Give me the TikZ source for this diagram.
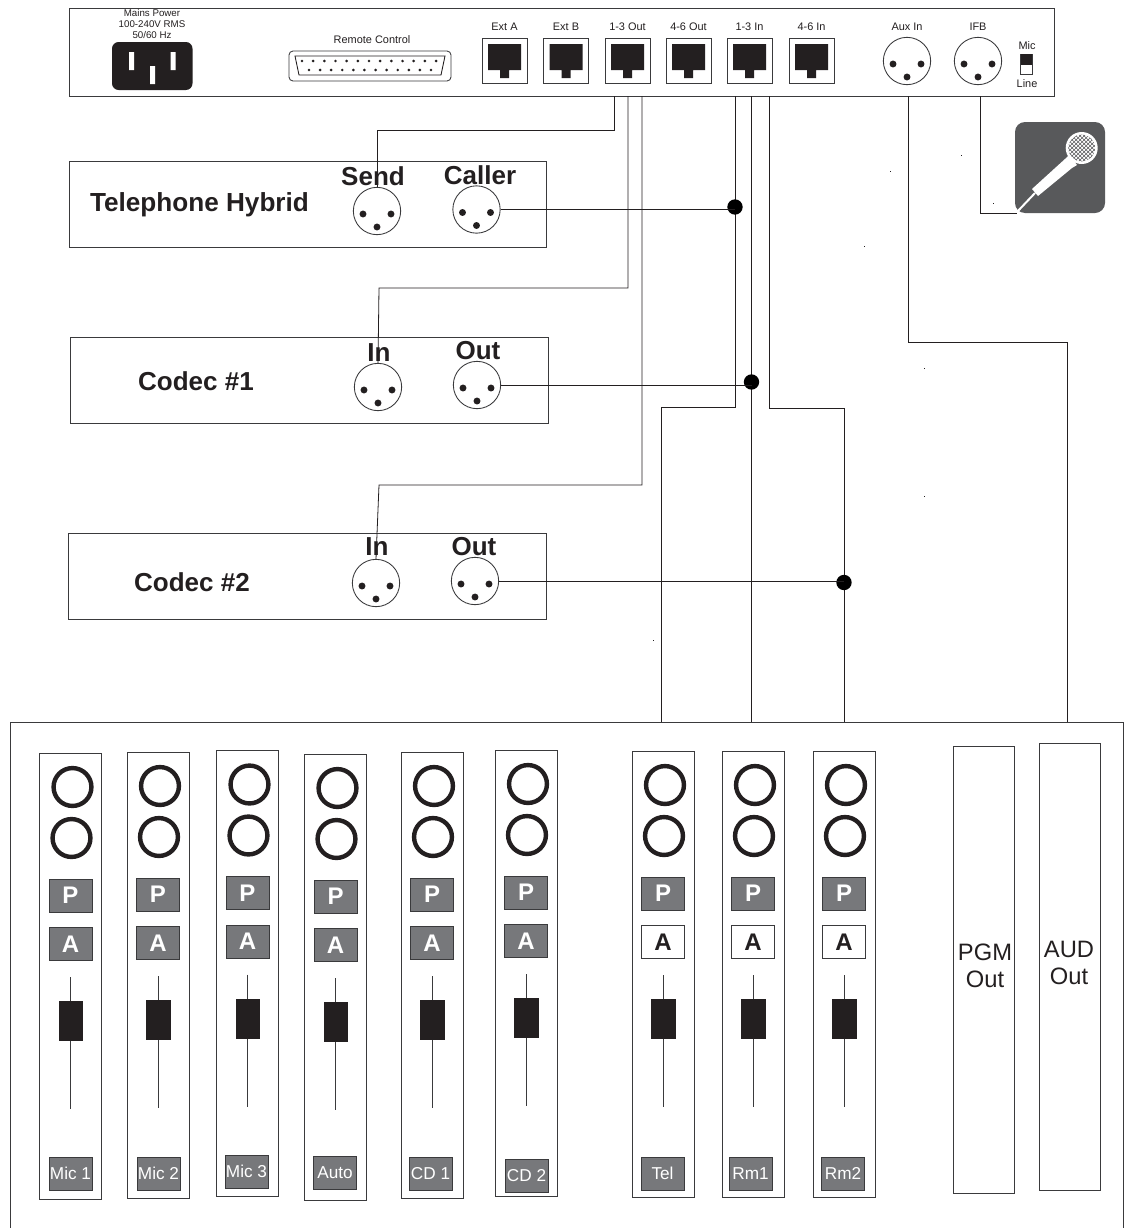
\documentclass[tikz,border=0pt]{standalone}
\usepackage{fontspec}
\setmainfont{Liberation Sans}
\usetikzlibrary{patterns}
\definecolor{ink}{HTML}{231F20}
\definecolor{edge}{HTML}{3A3A3C}
\definecolor{btngray}{HTML}{77787B}
\definecolor{micgray}{HTML}{58595B}
\tikzset{
  panelline/.style={draw=edge,line width=0.65pt},
  wire/.style={draw=ink,line width=0.6pt},
  xlrbody/.style={circle,draw=edge,line width=0.65pt,fill=white,minimum size=35.5pt,inner sep=0pt},
  xlrpin/.style={fill=ink},
  tiny/.style={font=\fontsize{8.2}{10}\selectfont,text=ink,anchor=base,inner sep=0pt},
  title/.style={font=\bfseries\fontsize{19.5}{22}\selectfont,text=ink,anchor=base,inner sep=0pt},
  junction/.style={circle,fill=black,minimum size=11.5pt,inner sep=0pt},
  knobring/.style={draw=ink,line width=3.3pt},
  btn/.style={draw=edge,line width=0.6pt,fill=btngray,text=white,font=\bfseries\fontsize{18}{18}\selectfont,minimum width=32.25pt,minimum height=24.75pt,inner sep=0pt},
  btnoff/.style={btn,fill=white,text=ink},
  namebtn/.style={btn,font=\fontsize{12.9}{14}\selectfont},
  big/.style={font=\fontsize{17.8}{20.2}\selectfont,text=ink,align=center,inner sep=0pt},
  speck/.style={fill=ink}
}
\newcommand{\xlrnode}[3]{%
  \node[xlrbody] (#1) at (#2,#3) {};
  \fill[xlrpin] (#2-14,#3+3) circle (2.6pt) (#2+14,#3+3) circle (2.6pt) (#2,#3+16) circle (2.6pt);
}
\newcommand{\rjjack}[2]{%
  \draw[panelline] (#1,38) rectangle (#1+45,83);
  \fill[ink] (#1+6,44) rectangle (#1+39,70) (#1+18,70) rectangle (#1+27,78);
  \node[tiny] at (#1+22.5,30) {#2};
}
% id, left, top, P/A state style for A, name text, name cx, name cy
\newcommand{\chstrip}[7]{%
  \draw[panelline] (#2,#3) rectangle (#2+62,#3+446);
  \draw[knobring] (#2+33,#3+34) circle (14.2pt) (#2+32,#3+85) circle (14.2pt);
  \node[btn] (#1p) at (#2+31,#3+142.5) {P};
  \node[#4] (#1a) at (#2+31,#3+191) {A};
  \draw[edge,line width=0.6pt] (#2+31,#3+224) -- (#2+31,#3+356);
  \fill[ink] (#2+19,#3+248) rectangle (#2+43.5,#3+288);
  \node[namebtn] (#1n) at (#5,#6) {#7};
}
\begin{document}
\begin{tikzpicture}[x=0.75pt,y=-0.75pt]
\useasboundingbox (0,0) rectangle (1129,1228);
\fill[white] (0,0) rectangle (1129,1228);

% rear panel
\draw[panelline] (69,8) rectangle (1054,96);
\node[tiny,align=center,font=\fontsize{7.3}{8.25}\selectfont,anchor=north] at (152,9) {Mains Power\\100-240V RMS\\50/60 Hz};
\fill[ink,rounded corners=5pt] (112,42) rectangle (192.5,90);
\fill[white] (129,52) rectangle (134,70) (170.5,52) rectangle (175.5,70) (150,66) rectangle (155,84);
\node[tiny] at (372,43) {Remote Control};
\draw[edge,line width=0.65pt,rounded corners=3pt] (289,51) rectangle (451,81);
\draw[ink,line width=0.65pt] (295,56) -- (445,56) -- (441,75) -- (299,75) -- cycle;
\foreach \i in {0,...,12} \fill[ink] (302+\i*11.17,61) circle (1.1pt);
\foreach \i in {0,...,11} \fill[ink] (309+\i*11.09,70) circle (1.1pt);
\rjjack{482}{Ext A}
\rjjack{543.5}{Ext B}
\rjjack{605}{1-3 Out}
\rjjack{666}{4-6 Out}
\rjjack{727}{1-3 In}
\rjjack{789}{4-6 In}
\node[tiny] at (907,30) {Aux In};
\node[tiny] at (978,30) {IFB};
\xlrnode{auxin}{907}{61}
\xlrnode{ifb}{978}{61}
\node[tiny] at (1027,49) {Mic};
\node[tiny] at (1027,87) {Line};
\draw[edge,line width=0.65pt,fill=white] (1020.5,54) rectangle (1032,74);
\fill[ink] (1020.5,54) rectangle (1032,65);

% microphone
\fill[micgray,rounded corners=7.5pt] (1015,122) rectangle (1105,213);
\draw[white,line width=1.5pt] (1017,212) -- (1035,193);
\fill[white] (1032,189) -- (1038,196) -- (1072,168) -- (1077,165) -- (1069,155) -- (1065,159) -- cycle;
\fill[white] (1081.7,148) circle (12pt);
\fill[pattern=crosshatch,pattern color=micgray] (1081.7,148) circle (10pt);

% devices
\draw[panelline] (69,161) rectangle (546,247);
\node[title,font=\bfseries\fontsize{19.6}{22}\selectfont] at (199.5,211) {Telephone Hybrid};
\node[title] at (373,185) {Send};
\node[title] at (480,184) {Caller};
\xlrnode{send}{377}{211}
\xlrnode{caller}{476.5}{209.5}

\draw[panelline] (70,337) rectangle (548,423);
\node[title] at (196,390) {Codec \#1};
\node[title] at (379,361) {In};
\node[title] at (478,359) {Out};
\xlrnode{cainp}{378}{387}
\xlrnode{caout}{477}{385}

\draw[panelline] (68,533) rectangle (546,619);
\node[title] at (192,591) {Codec \#2};
\node[title] at (377,555) {In};
\node[title] at (474,555) {Out};
\xlrnode{cbinp}{376}{583}
\xlrnode{cbout}{475}{581}

% wire anchors
\coordinate (outa) at (614,96);
\coordinate (outb) at (628,96);
\coordinate (outc) at (642,96);
\coordinate (ina) at (735,96);
\coordinate (inb) at (751.5,96);
\coordinate (inc) at (769,96);
\coordinate (auxtop) at (908,96);
\coordinate (ifbtop) at (980,96);
\coordinate (mictail) at (1017,213);
\coordinate (ra) at (377,130);
\coordinate (rb) at (379,288);
\coordinate (rc) at (379,485);
\coordinate (rd) at (661,407);
\coordinate (re) at (844,408);
\coordinate (rf) at (1067,342);
\coordinate (cona) at (661,722);
\coordinate (conb) at (751.5,722);
\coordinate (conc) at (844,722);
\coordinate (cond) at (1067,722);

\draw[wire] (outa) |- (ra) -- (send.north);
\draw[wire] (outb) |- (rb) -- (cainp.north);
\draw[wire] (outc) |- (rc) -- (cbinp.north);
\draw[wire] (ina) |- (rd) -- (cona);
\draw[wire] (inb) -- (conb);
\draw[wire] (inc) |- (re) -- (conc);
\draw[wire] (auxtop) |- (rf) -- (cond);
\draw[wire] (ifbtop) |- (mictail);

\node[junction] (ja) at (735,207) {};
\node[junction] (jb) at (751.5,382) {};
\node[junction] (jc) at (844,582.5) {};
\draw[wire] (caller.east) -- (caller.east -| ja);
\draw[wire] (caout.east) -- (caout.east -| jb);
\draw[wire] (cbout.east) -- (cbout.east -| jc);

% specks
\foreach \p/\q in {890/171,961/155,864/246,924/368,924/496,653/640,993/203}
  \fill[speck] (\p-0.5,\q-0.5) rectangle (\p+0.5,\q+0.5);

% console
\draw[panelline] (10,1228) -- (10,722) -- (1123,722) -- (1123,1228);
\chstrip{mica}{39.5}{753}{btn}{70.5}{1173.5}{Mic 1}
\chstrip{micb}{127}{752}{btn}{158.5}{1173.5}{Mic 2}
\chstrip{micc}{216.5}{750.5}{btn}{246.5}{1171.5}{Mic 3}
\chstrip{auto}{304.5}{754}{btn}{335}{1172.5}{Auto}
\chstrip{cda}{401}{752}{btn}{430.5}{1173.5}{CD 1}
\chstrip{cdb}{495}{750}{btn}{526.5}{1175.5}{CD 2}
\chstrip{tel}{632}{751}{btnoff}{662.5}{1173.5}{Tel}
\chstrip{rma}{722}{751}{btnoff}{750.5}{1173.5}{Rm1}
\chstrip{rmb}{813}{751}{btnoff}{843}{1173.5}{Rm2}
\draw[panelline] (953,746) rectangle (1014,1193);
\node[big] (pgm) at (985,966) {PGM\\Out};
\draw[panelline] (1039,743) rectangle (1100,1190);
\node[big] (aud) at (1069,963) {AUD\\Out};
\end{tikzpicture}
\end{document}
